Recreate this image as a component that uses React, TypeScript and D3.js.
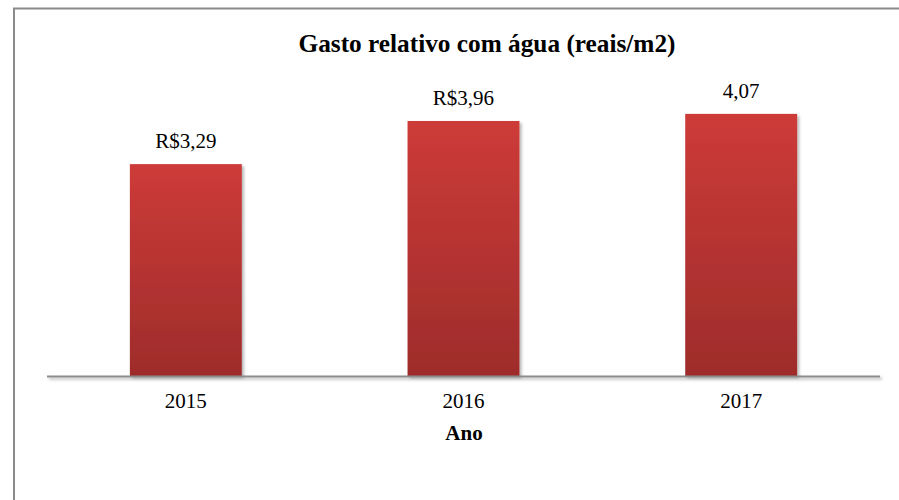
import * as d3 from 'd3';
import React, { useRef, useEffect } from 'react';

const years = ['2015', '2016', '2017'];
const gasto = [3.29, 3.96, 4.07];
const labels = ['R$3,29', 'R$3,96', '4,07'];

const width = 899;
const height = 500;
const axisY = 376;
const serif = '"Liberation Serif", "Times New Roman", Times, serif';

export default function App() {
  const ref = useRef<SVGSVGElement>(null);

  useEffect(() => {
    const svg = d3.select(ref.current);
    svg.selectAll('*').remove();

    const defs = svg.append('defs');
    const grad = defs.append('linearGradient')
      .attr('id', 'barGrad')
      .attr('x1', 0).attr('y1', 0).attr('x2', 0).attr('y2', 1);
    grad.append('stop').attr('offset', '0%').attr('stop-color', '#cd3b38');
    grad.append('stop').attr('offset', '100%').attr('stop-color', '#9e2c2b');

    const shadow = defs.append('filter').attr('id', 'shadow')
      .attr('filterUnits', 'userSpaceOnUse')
      .attr('x', 0).attr('y', 0).attr('width', width).attr('height', height);
    shadow.append('feDropShadow')
      .attr('dx', 2).attr('dy', 2).attr('stdDeviation', 1.5)
      .attr('flood-color', '#000').attr('flood-opacity', 0.3);

    // outer frame (left + top only visible)
    svg.append('line')
      .attr('x1', 13).attr('x2', width).attr('y1', 8.5).attr('y2', 8.5)
      .attr('stroke', '#8a8a8a').attr('stroke-width', 2);
    svg.append('line')
      .attr('x1', 14).attr('x2', 14).attr('y1', 8).attr('y2', height)
      .attr('stroke', '#8a8a8a').attr('stroke-width', 2);

    const x = d3.scaleBand()
      .domain(years)
      .range([47, 880])
      .paddingInner(0.597)
      .paddingOuter(0.2985);

    const y = d3.scaleLinear()
      .domain([0, 5])
      .range([axisY, axisY - 322]);

    // bars
    svg.append('g')
      .selectAll('rect')
      .data(gasto)
      .enter()
      .append('rect')
      .attr('x', (d, i) => x(years[i])!)
      .attr('y', d => y(d))
      .attr('width', x.bandwidth())
      .attr('height', d => y(0) - y(d))
      .attr('fill', 'url(#barGrad)')
      .attr('filter', 'url(#shadow)');

    // axis line
    svg.append('rect')
      .attr('x', 47).attr('y', axisY - 0.5)
      .attr('width', 833).attr('height', 2)
      .attr('fill', '#8c8c8c')
      .attr('filter', 'url(#shadow)');

    const xAxis = d3.axisBottom(x).tickSize(0).tickPadding(0);
    const gx = svg.append('g')
      .attr('transform', `translate(0,${axisY})`)
      .call(xAxis);
    gx.select('.domain').remove();
    gx.selectAll('text')
      .attr('dy', null)
      .attr('y', 32)
      .attr('fill', '#000')
      .style('font-family', serif)
      .style('font-size', '21px');

    // value labels
    svg.append('g')
      .selectAll('text')
      .data(gasto)
      .enter()
      .append('text')
      .attr('x', (d, i) => x(years[i])! + x.bandwidth() / 2)
      .attr('y', d => y(d) - 16)
      .attr('text-anchor', 'middle')
      .style('font-family', serif)
      .style('font-size', '21px')
      .text((d, i) => labels[i]);

    svg.append('text')
      .attr('x', 487)
      .attr('y', 52)
      .attr('text-anchor', 'middle')
      .style('font-family', serif)
      .style('font-size', '25.3px')
      .style('font-weight', 'bold')
      .text('Gasto relativo com água (reais/m2)');

    svg.append('text')
      .attr('x', 464)
      .attr('y', 440)
      .attr('text-anchor', 'middle')
      .style('font-family', serif)
      .style('font-size', '21px')
      .style('font-weight', 'bold')
      .text('Ano');
  }, []);

  return (
    <div style={{ position: 'absolute', left: 0, top: 0 }}>
      <svg ref={ref} width={width} height={height} style={{ display: 'block', background: '#fff' }} />
    </div>
  );
}
